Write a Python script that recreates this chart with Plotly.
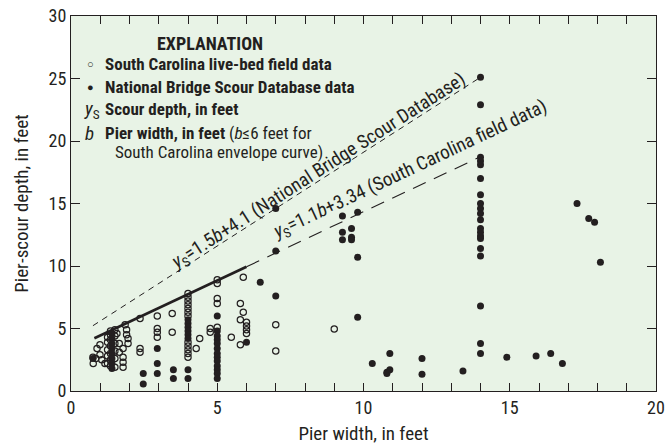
import plotly.graph_objects as go

# South Carolina live-bed field data (open circles)
sc_b = [0.76, 0.75, 0.85, 0.89, 0.99, 0.99, 1.16, 1.05,
        1.25, 1.25, 1.25, 1.25, 1.25,
        1.35, 1.35, 1.35, 1.35, 1.35, 1.35, 1.35,
        1.5, 1.5, 1.5, 1.5, 1.5, 1.5,
        1.57, 1.65, 1.65, 1.78, 1.78, 1.78, 1.78,
        1.9, 1.9, 1.95, 1.95, 1.85,
        2.36, 2.36, 2.36,
        2.95, 2.95, 2.95, 2.95,
        3.46, 3.46,
        4.0, 4.0, 4.0, 4.0, 4.0, 4.0, 4.0, 4.0, 4.0, 4.0, 4.0, 4.0,
        4.28, 4.4, 4.76, 4.76,
        5.0, 5.0, 5.0, 5.0, 5.0,
        5.48, 5.79, 5.79, 5.79, 5.89, 5.89,
        6.0, 6.0, 6.0, 6.0,
        7.0, 7.0, 9.0]
sc_y = [2.2, 2.7, 2.6, 3.4, 3.7, 2.9, 2.2, 2.5,
        4.3, 3.9, 3.3, 2.8, 2.2,
        4.8, 4.5, 4.1, 3.6, 3.0, 2.5, 2.0,
        4.9, 4.4, 3.8, 3.2, 2.6, 1.9,
        4.6, 3.8, 3.1, 3.4, 2.7, 2.3, 1.9,
        4.9, 4.5, 4.2, 3.8, 5.3,
        5.8, 3.4, 3.1,
        6.0, 5.0, 4.7, 4.3,
        6.2, 4.7,
        7.8, 7.5, 7.2, 6.9, 6.6, 6.3, 6.0, 3.9, 3.6, 3.3, 3.0, 2.7,
        3.4, 4.2, 5.0, 4.7,
        8.9, 8.6, 7.4, 7.0, 5.1,
        4.3, 7.0, 5.7, 3.7, 9.1, 6.3,
        5.5, 5.2, 4.9, 4.6,
        5.3, 3.2, 4.96]

# National Bridge Scour Database data (filled circles)
nb_b = [0.75,
        1.4, 1.4, 1.4, 1.4, 1.4, 1.4, 1.4, 1.4,
        2.47, 2.47,
        2.95, 2.95, 2.95,
        3.5, 3.5,
        4.0, 4.0, 4.0, 4.0, 4.0, 4.0, 4.0, 4.0,
        5.0, 5.0, 5.0, 5.0, 5.0, 5.0, 5.0, 5.0, 5.0, 5.0, 5.0, 5.0, 5.0,
        6.0, 6.47,
        7.0, 7.0, 7.0,
        9.28, 9.28, 9.28, 9.59, 9.59, 9.59, 9.8, 9.8, 9.8,
        10.3, 10.9, 10.8, 10.8, 10.9,
        12.0, 12.0, 13.4,
        14.0, 14.0, 14.0, 14.0, 14.0, 14.0, 14.0, 14.0, 14.0, 14.0,
        14.0, 14.0, 14.0, 14.0, 14.0, 14.0, 14.0, 14.0, 14.0, 14.0,
        14.9, 15.9, 16.4, 16.8,
        17.3, 17.7, 17.9, 18.1]
nb_y = [2.6,
        4.6, 4.2, 3.8, 3.4, 3.0, 2.6, 2.2, 1.8,
        1.4, 0.56,
        3.4, 2.2, 1.4,
        1.7, 1.0,
        5.7, 5.4, 5.1, 4.8, 4.5, 4.2, 1.7, 1.0,
        6.0, 4.8, 4.4, 4.1, 3.8, 3.4, 3.0, 2.7, 2.4, 2.0, 1.7, 1.4, 1.0,
        3.9, 8.7,
        14.6, 11.2, 7.6,
        14.0, 12.7, 12.1, 13.0, 12.3, 12.1, 14.3, 10.7, 5.9,
        2.2, 3.0, 1.5, 1.4, 1.7,
        2.6, 1.35, 1.6,
        25.1, 22.9, 18.7, 18.4, 18.1, 17.0, 15.7, 15.0, 14.6, 14.2,
        13.7, 13.0, 12.7, 12.4, 12.2, 11.4, 10.8, 6.8, 3.8, 3.0,
        2.7, 2.8, 3.0, 2.2,
        15.0, 13.8, 13.5, 10.3]

# Envelope curves: ys = slope*b + intercept
nbsd_slope, nbsd_int = 1.5, 4.1
nbsd_range = [0.75, 14.0]
sc_slope, sc_int = 1.1, 3.34
sc_solid_range = [0.8, 6.0]
sc_dash_range = [6.0, 14.0]

FONT = "Liberation Sans Narrow, Roboto Condensed, Arial Narrow, sans-serif"
INK = "#231f20"


def line_y(r, m, c):
    return [m * v + c for v in r]


fig = go.Figure()
fig.add_trace(go.Scatter(x=nbsd_range, y=line_y(nbsd_range, nbsd_slope, nbsd_int),
                         mode="lines", line=dict(color=INK, width=1, dash="6px,5px"),
                         hoverinfo="skip"))
fig.add_trace(go.Scatter(x=sc_dash_range, y=line_y(sc_dash_range, sc_slope, sc_int),
                         mode="lines", line=dict(color=INK, width=1.1, dash="14px,9px"),
                         hoverinfo="skip"))
fig.add_trace(go.Scatter(x=sc_solid_range, y=line_y(sc_solid_range, sc_slope, sc_int),
                         mode="lines", line=dict(color=INK, width=2.6),
                         hoverinfo="skip"))
fig.add_trace(go.Scatter(x=sc_b, y=sc_y, mode="markers",
                         marker=dict(symbol="circle-open", size=6.3, color=INK,
                                     line=dict(width=1.2, color=INK))))
fig.add_trace(go.Scatter(x=nb_b, y=nb_y, mode="markers",
                         marker=dict(symbol="circle", size=7, color=INK,
                                     line=dict(width=0))))

ann = []
# Legend block
ann.append(dict(x=4.76, y=27.84, text="<b>EXPLANATION</b>", xanchor="center",
                yanchor="middle", font=dict(size=18)))
ann.append(dict(x=0.68, y=26.16, text="○", xanchor="center", yanchor="middle",
                font=dict(size=11)))
ann.append(dict(x=1.10, y=26.16, text="<b>South Carolina live-bed field data</b>",
                xanchor="left", yanchor="middle", font=dict(size=17)))
ann.append(dict(x=0.68, y=24.32, text="●", xanchor="center", yanchor="middle",
                font=dict(size=11)))
ann.append(dict(x=1.10, y=24.32, text="<b>National Bridge Scour Database data</b>",
                xanchor="left", yanchor="middle", font=dict(size=17)))
ann.append(dict(x=0.38, y=22.56, text="<i>y</i><sub>S</sub>", xanchor="left",
                yanchor="middle", font=dict(size=19)))
ann.append(dict(x=1.10, y=22.56, text="<b>Scour depth, in feet</b>",
                xanchor="left", yanchor="middle", font=dict(size=17)))
ann.append(dict(x=0.40, y=20.64, text="<i>b</i>", xanchor="left",
                yanchor="middle", font=dict(size=19)))
ann.append(dict(x=1.10, y=20.64, text="<b>Pier width, in feet</b> (<i>b</i>≤6 feet for",
                xanchor="left", yanchor="middle", font=dict(size=17)))
ann.append(dict(x=1.44, y=19.12, text="South Carolina envelope curve)",
                xanchor="left", yanchor="middle", font=dict(size=17)))
# Curve labels
ann.append(dict(x=8.45, y=17.55,
                text="<i>y</i><sub>S</sub>=1.5<i>b</i>+4.1 (National Bridge Scour Database)",
                xanchor="center", yanchor="middle", textangle=-32.7,
                font=dict(size=19)))
ann.append(dict(x=11.6, y=17.7,
                text="<i>y</i><sub>S</sub>=1.1<i>b</i>+3.34 (South Carolina field data)",
                xanchor="center", yanchor="middle", textangle=-25.2,
                font=dict(size=19)))
for a in ann:
    a.update(xref="x", yref="y", showarrow=False)
    a["font"].update(family=FONT, color=INK)

fig.update_layout(
    width=666, height=445,
    margin=dict(l=71, r=10, t=16, b=54, autoexpand=False),
    paper_bgcolor="white",
    plot_bgcolor="#e8f3e6",
    showlegend=False,
    hovermode=False,
    font=dict(family=FONT, color=INK, size=19),
    annotations=ann,
)
fig.update_xaxes(range=[0, 20], dtick=5, tick0=0, automargin=False,
                 ticks="inside", ticklen=8, tickwidth=1, tickcolor=INK,
                 minor=dict(dtick=1, ticks="inside", ticklen=8, tickwidth=1,
                            tickcolor=INK, showgrid=False),
                 showline=True, linecolor=INK, linewidth=1, mirror="ticks",
                 showgrid=False, zeroline=False, ticklabeloverflow="allow",
                 title=dict(text="Pier width, in feet", standoff=13,
                            font=dict(size=19)),
                 tickfont=dict(size=18))
fig.update_yaxes(range=[0, 30], dtick=5, tick0=0, automargin=False,
                 ticks="inside", ticklen=9, tickwidth=1, tickcolor=INK,
                 showline=True, linecolor=INK, linewidth=1, mirror="ticks",
                 showgrid=False, zeroline=False, ticklabeloverflow="allow",
                 title=dict(text="Pier-scour depth, in feet", standoff=14,
                            font=dict(size=19)),
                 tickfont=dict(size=18))

# remove the default page margin so the 666x445 figure fills the window exactly
fig.write_html("out.html",
               config={"displayModeBar": False, "staticPlot": True},
               post_script="document.body.style.margin='0';"
                           "document.body.style.overflow='hidden';")
